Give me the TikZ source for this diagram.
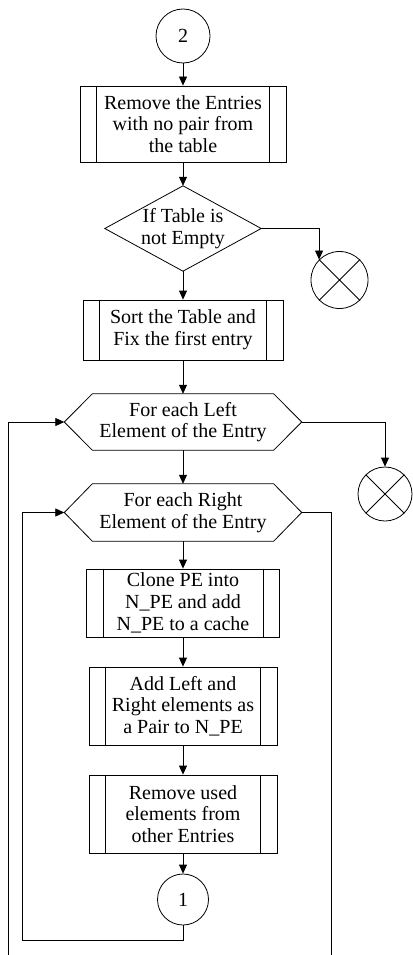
\documentclass[tikz,border=0pt]{standalone}
\usepackage{fontspec}
\setmainfont{Liberation Serif}
\usetikzlibrary{arrows.meta,calc}
\begin{document}
\begin{tikzpicture}[x=1pt,y=-1pt,
  ln/.style={line width=0.8pt},
  arr/.style={ln,-{Triangle[length=9pt,width=8pt]}},
  txt/.style={font=\fontsize{20}{21.7}\selectfont, align=center, inner sep=0pt},
  procbox/.style={txt, draw, ln, rectangle},
  conn/.style={txt, draw, ln, circle},
  xcirc/.style={draw, ln, circle, inner sep=0pt},
  plain/.style={txt, rectangle}]
\useasboundingbox (0,0) rectangle (412,955);

% nodes
\node[conn, minimum size=54pt] (c2) at (183,36) {2};
\node[procbox, minimum width=206pt, minimum height=76pt] (b1) at (183,124)
  {Remove the Entries\\with no pair from\\the table};
\node[plain, minimum width=156pt, minimum height=85pt] (d) at (183,228.5)
  {If Table is\\not Empty};
\node[xcirc, minimum size=57pt] (x1) at (339.5,280) {};
\node[procbox, minimum width=200pt, minimum height=60pt] (b2) at (183,330)
  {Sort the Table and\\Fix the first entry};
\node[plain, minimum width=237pt, minimum height=56pt] (h1) at (183,422)
  {For each Left\\Element of the Entry};
\node[xcirc, minimum size=54pt] (x2) at (385,494) {};
\node[plain, minimum width=237pt, minimum height=57pt] (h2) at (183,512.5)
  {For each Right\\Element of the Entry};
\node[procbox, minimum width=193pt, minimum height=68pt] (b3) at (183,603)
  {Clone PE into\\N\_PE and add\\N\_PE to a cache};
\node[procbox, minimum width=188pt, minimum height=78pt] (b4) at (183,706)
  {Add Left and\\Right elements as\\a Pair to N\_PE};
\node[procbox, minimum width=188pt, minimum height=78pt] (b5) at (183,814)
  {Remove used\\elements from\\other Entries};
\node[conn, minimum size=51pt] (c1) at (183,899.5) {1};

\coordinate (lb) at (8,955);
\coordinate (ib) at (22,940);
\coordinate (rb) at (331,955);

% inner lines of predefined-process boxes
\foreach \b in {b1,b2,b3,b4,b5}{
  \draw[ln] ([xshift=17pt]\b.north west) -- ([xshift=17pt]\b.south west)
            ([xshift=-17pt]\b.north east) -- ([xshift=-17pt]\b.south east);
}
% diamond
\draw[ln] (d.west) -- (d.north) -- (d.east) -- (d.south) -- cycle;
% hexagons
\foreach \h in {h1,h2}{
  \draw[ln] (\h.west) -- ([xshift=28pt]\h.north west) -- ([xshift=-28pt]\h.north east)
    -- (\h.east) -- ([xshift=-28pt]\h.south east) -- ([xshift=28pt]\h.south west) -- cycle;
}
% crosses in terminator circles
\foreach \x in {x1,x2}{
  \draw[ln] (\x.45) -- (\x.225) (\x.135) -- (\x.315);
}

% connectors
\draw[arr] (c2.south) -- (b1.north);
\draw[arr] (b1.south) -- (d.north);
\draw[arr] (d.south) -- (b2.north);
\draw[arr] (d.east) -| (x1.135);
\draw[arr] (b2.south) -- (h1.north);
\draw[arr] (h1.east) -| (x2.north);
\draw[arr] (h1.south) -- (h2.north);
\draw[arr] (h2.south) -- (b3.north);
\draw[arr] (b3.south) -- (b4.north);
\draw[arr] (b4.south) -- (b5.north);
\draw[arr] (b5.south) -- (c1.north);
\draw[arr] (c1.south) -- (c1.south |- ib) -- (ib) |- (h2.west);
\draw[arr] (lb) |- (h1.west);
\draw[ln] (h2.east) -| (rb);
\end{tikzpicture}
\end{document}
